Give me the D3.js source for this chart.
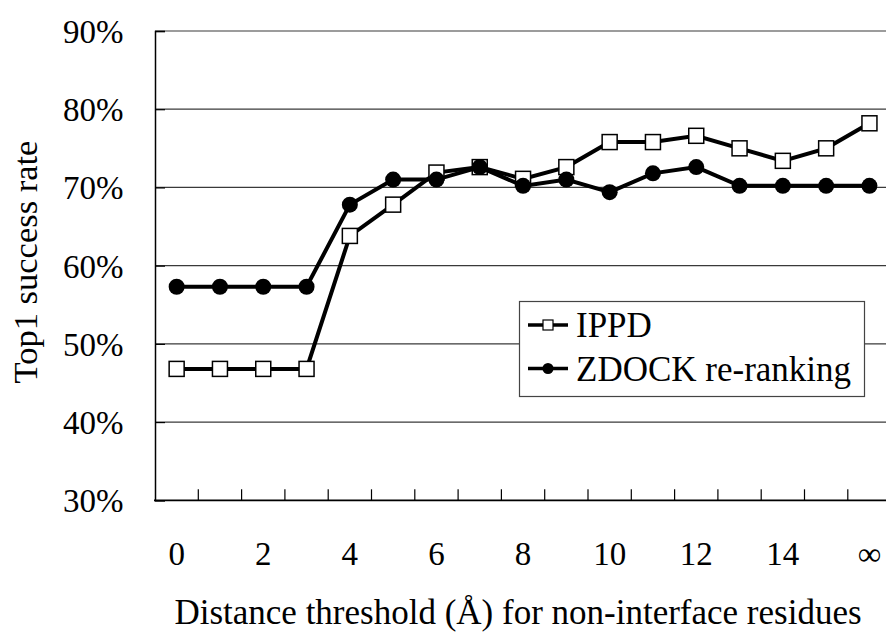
<!DOCTYPE html>
<html>
<head>
<meta charset="utf-8">
<script src="https://cdn.jsdelivr.net/npm/d3@7"></script>
<style>
  body { margin: 0; background: #fff; }
  svg, svg text { font-family: "Liberation Serif", "Times New Roman", "DejaVu Serif", serif; }
</style>
</head>
<body>
<script>
// distance thresholds (last one is "no cutoff")
const categories = ["0", "1", "2", "3", "4", "5", "6", "7", "8", "9", "10", "11", "12", "13", "14", "15", "∞"];
const ippd = [46.8, 46.8, 46.8, 46.8, 63.8, 67.8, 71.9, 72.6, 71.1, 72.6, 75.8, 75.8, 76.6, 75.0, 73.4, 75.0, 78.2];
const zdock = [57.3, 57.3, 57.3, 57.3, 67.8, 71.0, 71.0, 72.6, 70.2, 71.0, 69.4, 71.8, 72.6, 70.2, 70.2, 70.2, 70.2];
const yTicks = [30, 40, 50, 60, 70, 80, 90];
const seriesNames = ["IPPD", "ZDOCK re-ranking"];

const svgWidth = 886, svgHeight = 633;
const plotLeft = 155, plotTop = 31, plotBottom = 500.3;
const band = 43.3;
const plotRight = plotLeft + band * categories.length;
const serif = '"Liberation Serif", "Times New Roman", "DejaVu Serif", serif';

const svg = d3.select("body").append("svg")
    .attr("width", svgWidth).attr("height", svgHeight)
    .attr("font-family", serif);

const x = d3.scaleBand()
    .domain(categories)
    .range([plotLeft, plotRight]);
const cx = d => x(d) + x.bandwidth() / 2;

const y = d3.scaleLinear().domain([30, 90]).range([plotBottom, plotTop]);

// gridlines
svg.append("g").selectAll("line")
    .data(yTicks.filter(t => t > 30))
    .join("line")
    .attr("x1", plotLeft).attr("x2", plotRight)
    .attr("y1", d => y(d)).attr("y2", d => y(d))
    .attr("stroke", "#3a3a3a").attr("stroke-width", 1.2);

// y axis
const yAxis = svg.append("g")
    .attr("transform", `translate(${plotLeft},0)`)
    .call(d3.axisRight(y).tickValues(yTicks).tickSize(10).tickFormat(""));
yAxis.select(".domain").attr("stroke", "#000").attr("stroke-width", 1.5);
yAxis.selectAll(".tick line").attr("stroke", "#000").attr("stroke-width", 1.2);

svg.append("g").selectAll("text")
    .data(yTicks)
    .join("text")
    .attr("x", 123.5).attr("y", d => y(d) + 12)
    .attr("text-anchor", "end")
    .attr("font-family", serif)
    .attr("font-size", 33)
    .text(d => d + "%");

// x axis: ticks between categories, pointing up
const xAxis = svg.append("g").attr("transform", `translate(0,${plotBottom})`);
xAxis.append("line")
    .attr("x1", plotLeft - 1).attr("x2", plotRight)
    .attr("stroke", "#000").attr("stroke-width", 1.8);
xAxis.selectAll(".tk")
    .data(categories.slice(1))
    .join("line").attr("class", "tk")
    .attr("x1", d => x(d)).attr("x2", d => x(d))
    .attr("y1", 0).attr("y2", -11)
    .attr("stroke", "#000").attr("stroke-width", 1.2);

svg.append("g").selectAll("text")
    .data(categories.filter((d, i) => i % 2 === 0))
    .join("text")
    .attr("x", d => cx(d)).attr("y", 565)
    .attr("text-anchor", "middle")
    .attr("font-family", serif)
    .attr("font-size", 33)
    .text(d => d);

// axis titles
svg.append("text")
    .attr("x", 518).attr("y", 624)
    .attr("text-anchor", "middle")
    .attr("font-family", serif)
    .attr("font-size", 35)
    .text("Distance threshold (Å) for non-interface residues");

svg.append("text")
    .attr("transform", "translate(37,262) rotate(-90)")
    .attr("text-anchor", "middle")
    .attr("font-family", serif)
    .attr("font-size", 34.5)
    .text("Top1 success rate");

// series
const line = d3.line().x((d, i) => cx(categories[i])).y(d => y(d));

svg.append("path").datum(ippd)
    .attr("d", line).attr("fill", "none")
    .attr("stroke", "#000").attr("stroke-width", 4);
svg.append("g").selectAll("rect")
    .data(ippd)
    .join("rect")
    .attr("x", (d, i) => cx(categories[i]) - 7.5)
    .attr("y", d => y(d) - 7.5)
    .attr("width", 15).attr("height", 15)
    .attr("fill", "#fff").attr("stroke", "#000").attr("stroke-width", 1.5);

svg.append("path").datum(zdock)
    .attr("d", line).attr("fill", "none")
    .attr("stroke", "#000").attr("stroke-width", 4);
svg.append("g").selectAll("circle")
    .data(zdock)
    .join("circle")
    .attr("cx", (d, i) => cx(categories[i]))
    .attr("cy", d => y(d))
    .attr("r", 8)
    .attr("fill", "#000");

// legend
const legend = svg.append("g");
legend.append("rect")
    .attr("x", 519.5).attr("y", 301.5)
    .attr("width", 345).attr("height", 95)
    .attr("fill", "#fff").attr("stroke", "#444").attr("stroke-width", 1.2);

const rows = legend.selectAll("g.row")
    .data(seriesNames)
    .join("g").attr("class", "row")
    .attr("transform", (d, i) => `translate(0,${325 + i * 43.5})`);
rows.append("line")
    .attr("x1", 528).attr("x2", 568)
    .attr("stroke", "#000").attr("stroke-width", 3.5);
rows.filter((d, i) => i === 0).append("rect")
    .attr("x", 543).attr("y", -5).attr("width", 10).attr("height", 10)
    .attr("fill", "#fff").attr("stroke", "#000").attr("stroke-width", 1.2);
rows.filter((d, i) => i === 1).append("circle")
    .attr("cx", 548).attr("r", 5.5).attr("fill", "#000");
rows.append("text")
    .attr("x", 576).attr("y", 12)
    .attr("font-family", serif)
    .attr("font-size", 35)
    .text(d => d);
</script>
</body>
</html>
